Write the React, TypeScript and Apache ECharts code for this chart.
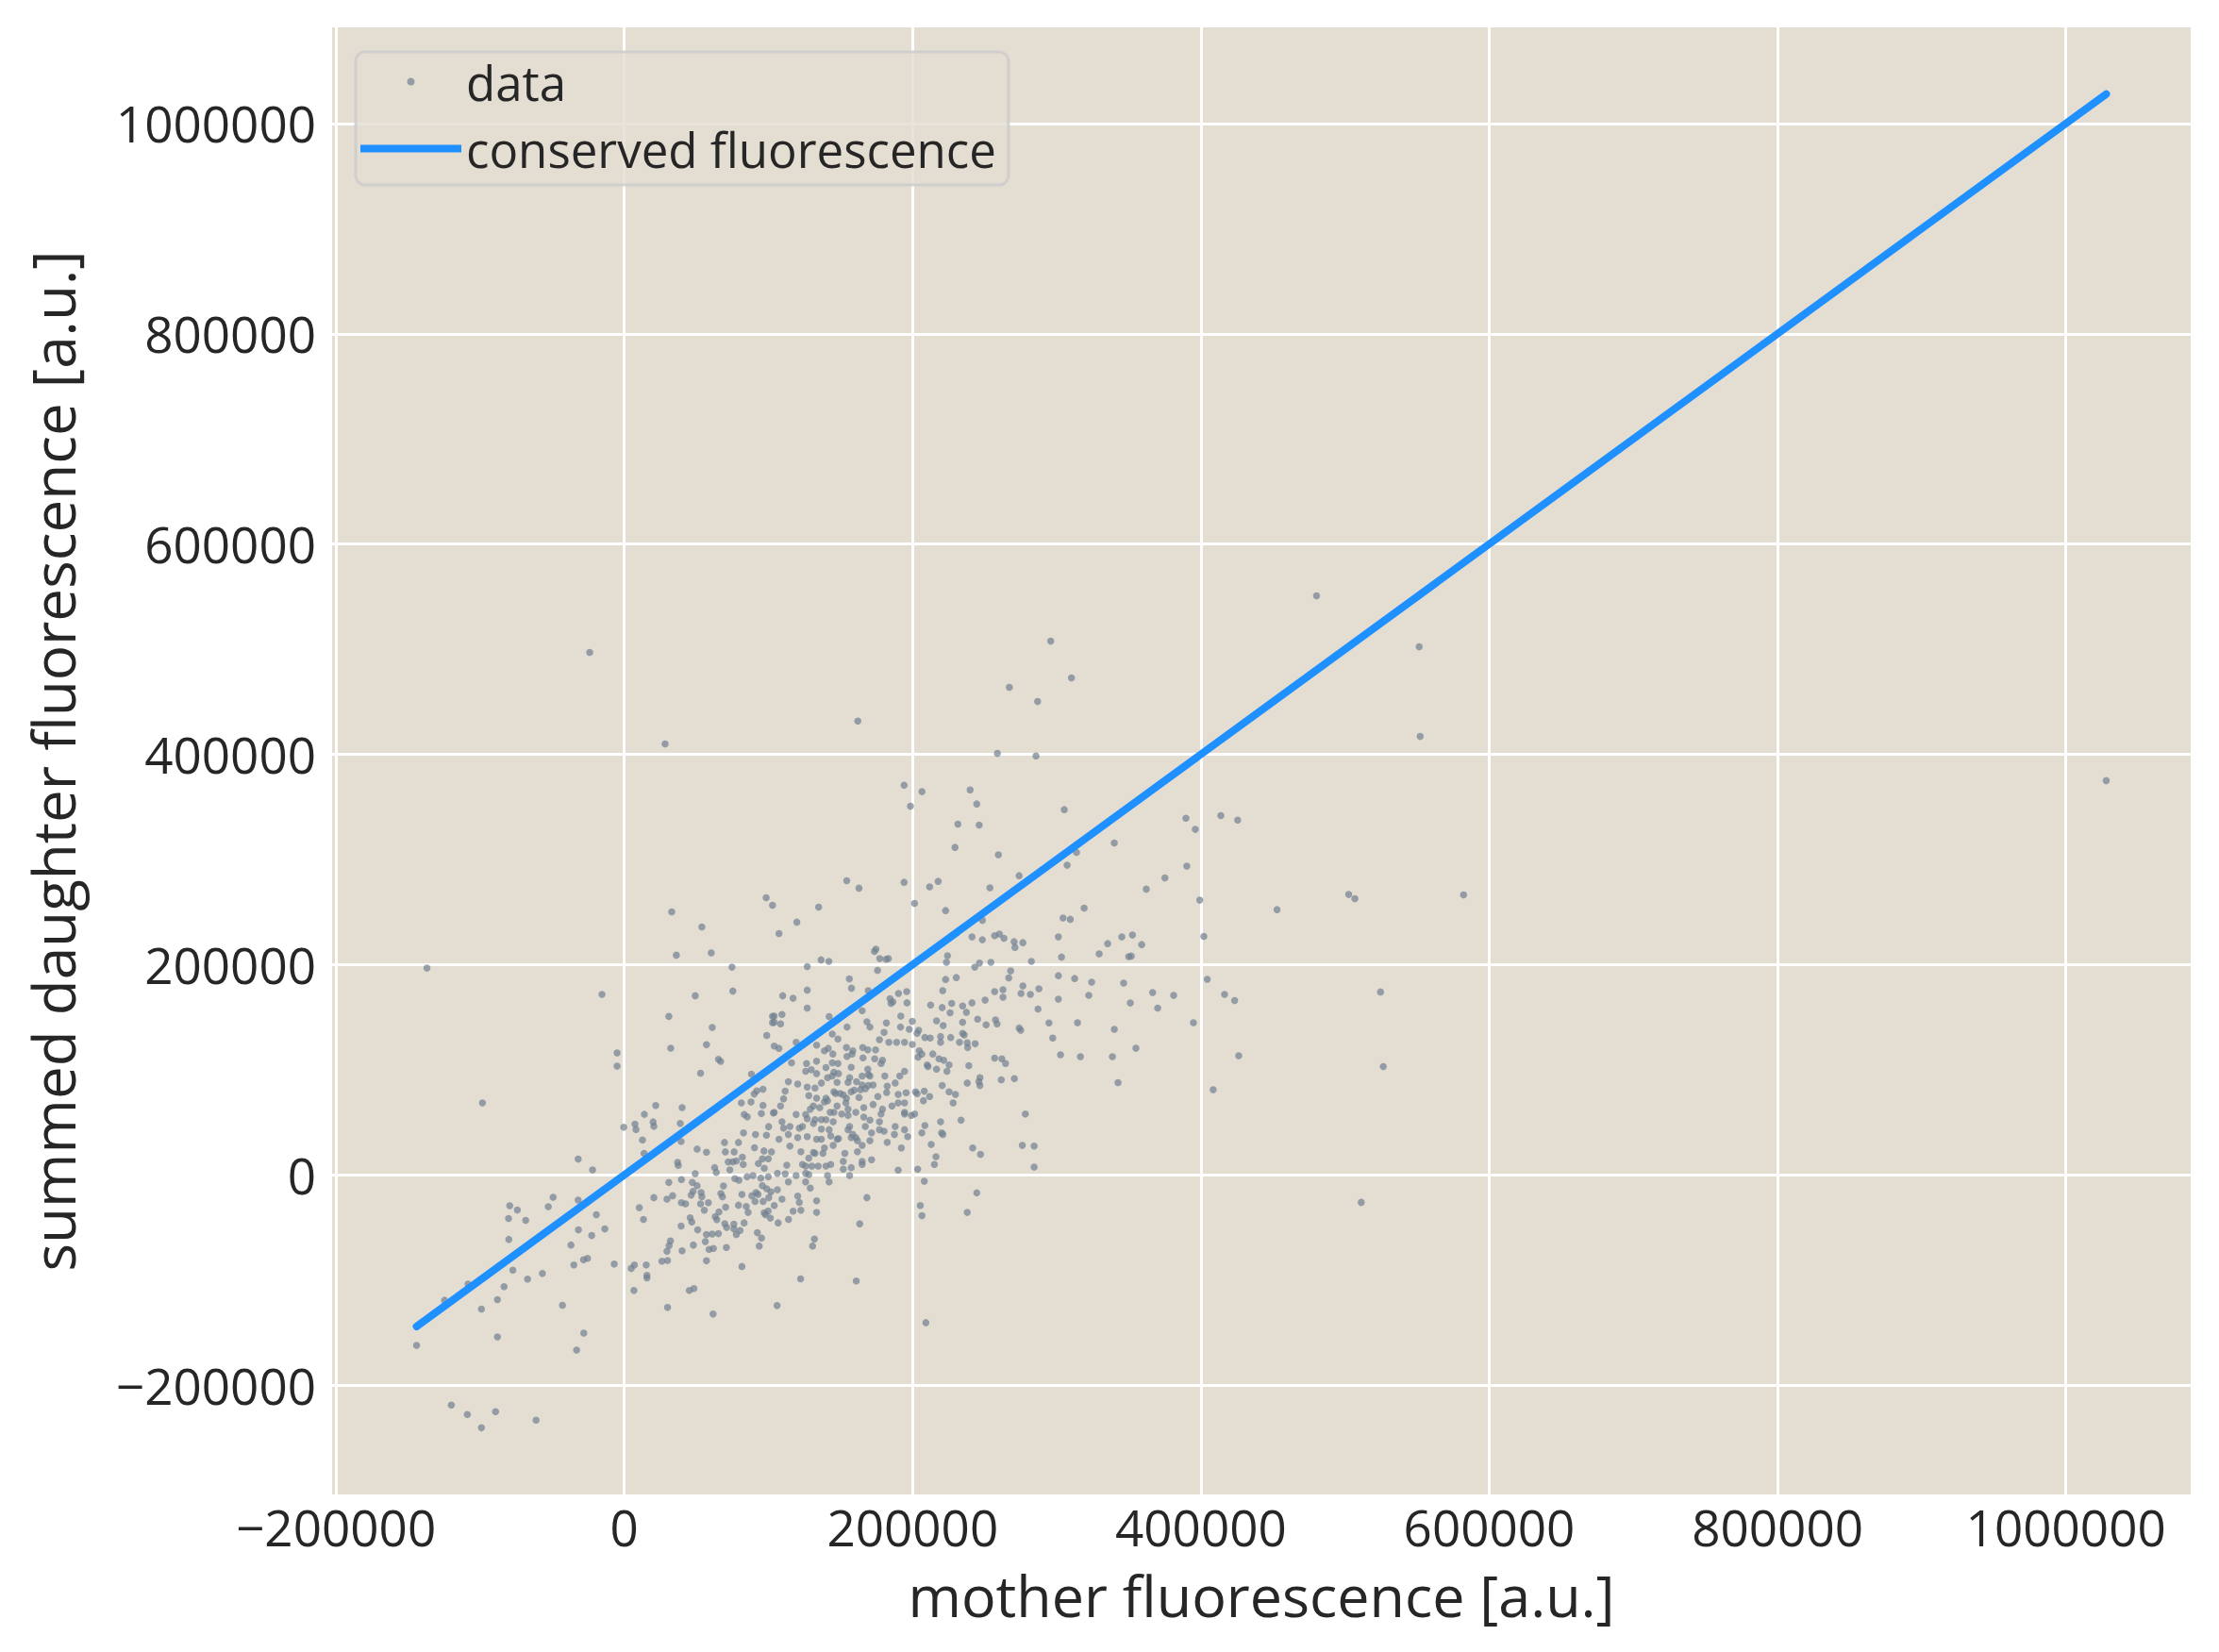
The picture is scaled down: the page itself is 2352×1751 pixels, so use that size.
import React, { useEffect, useRef } from "react";
import * as echarts from "echarts";

// mother fluorescence [a.u.], summed daughter fluorescence [a.u.]
const scatterPoints: number[][] = [
  [-98400,68500],[-32000,15000],[-22000,4800],[-49400,-21300],[-52700,-30300],[-79500,-29400],[-74200,-33300],[-80300,-41400],[-68400,-43200],[-32000,-24000],[-19400,-37800],[-31800,-52300],[-13500,-51400],[-22600,-57700],[-80100,-61300],[-37000,-66700],[-28300,-80800],[-25500,-79300],[-35000,-85600],[-7000,-84700],[-77300,-90600],[-67100,-99100],[-56800,-93700],[-83400,-106300],[-108400,-103900],[-124700,-119200],[-88000,-118600],[-99100,-127600],[-42900,-124000],[-88000,-154000],[-28100,-150500],[-144100,-162200],[-33100,-166600],[-120000,-218900],[-108900,-227900],[-89300,-225200],[-99100,-240500],[-61200,-233300],
  [-400,45300],[7400,48300],[8100,43200],[13900,57600],[21800,66000],[20000,50400],[20500,46200],[40100,64000],[38800,48900],[12600,33300],[13700,20400],[39400,31800],[37000,12000],[37400,9000],[50500,24600],[57000,21600],[49200,1200],[39600,-4500],[30900,-7200],[29600,-23100],[33500,-19800],[20500,-21600],[10400,-31200],[13300,-42300],[39600,-26400],[42500,-27600],[46400,-19200],[47700,-15600],[47200,-7200],[50500,-10200],[53300,-16800],[53800,-20700],[52900,-27600],[55500,-33600],[58300,-26400],[45700,-40800],[46800,-44700],[50900,-52300],[39400,-48600],[32000,-62800],[31100,-67300],[29600,-72700],[26100,-82000],[30000,-81400],[40100,-72100],[47900,-66700],[57000,-56800],[61000,-56200],[65300,-55900],[56200,-63400],[58800,-70900],[61800,-70000],[57000,-81700],[4800,-88900],[7000,-85600],[15200,-85600],[15700,-95500],[15700,-97900],[6700,-109900],[45100,-109900],[48300,-108100],[30000,-126100],[61600,-132400],[70800,-69100],[81600,-87100],[106000,-124300],[122300,-98800],[160900,-100900],[131900,-61000],[130600,-67600],[93600,-67600],[95200,-60100],[92300,-55000],[163300,-46500],[106700,-45600],[113900,-42300],[96300,-25200],[97000,-36000],[99800,-34200],[101300,-41100],[98000,-37800],[88500,-19800],[92800,-18600],[90700,-25200],[91400,-16800],[84600,-30000],[85900,-35700],[79200,-28800],[83100,-45600],[80300,-52900],[77700,-56800],[76000,-51400],[69700,-46300],[71000,-49900],[76000,-46800],[64200,-42600],[63100,-39600],[65700,-35100],[70300,-30600],[67000,-17700],[68100,-20700],[68800,-10500],[79500,-5100],[76700,-3600],[81600,-18600],[85200,-1800],[89300,-600],[94700,-3000],[99900,-1800],[95800,-10200],[98800,-13200],[101700,-16200],[100200,-21600],[69500,30900],[73200,4800],[75200,12300],[72100,12300],[62700,6900],[63800,2400],[70100,21900],[77700,13200],[76200,21900],[82500,9900],[81900,16800],[79200,30900],[90300,25800],[91000,38400],[98600,37800],[100100,45900],[96900,22800],[95800,15300],[93000,10800],[99900,15300],[97100,6300],[102100,21900],[103400,58900],[82700,39900],[81200,68500],[87900,69400],[96200,66100],[95100,58300],[83200,57400],[85300,55300],[90100,76900],[91900,79900],[96200,81400],
  [342500,87700],[206500,-38700],[209200,-140500],[408500,81100],[511200,-26100],
  [28300,409900],[162000,431700],[-136900,196700],[-15500,171600],[-5000,116000],[-5000,103400],[32900,250200],[53800,235900],[36100,209000],[60300,211100],[74700,197600],[98400,263700],[102800,256500],[134800,254700],[119700,240400],[107300,229600],[154300,279800],[162800,272700],[126900,198200],[136500,204500],[141900,203000],[173500,212600],[174600,214700],[177200,205700],[181600,205100],[175700,194600],[156100,186500],[157600,177600],[126900,175800],[49200,170400],[75300,174900],[109900,170400],[117100,168000],[30900,150700],[102800,150700],[102800,144700],[61000,140200],[98800,132700],[32200,120500],[57000,123800],[65300,110000],[66800,107900],[169200,175200],[88200,95900],[52900,96800],
  [258800,400900],[285600,398500],[194100,370700],[206500,364500],[198500,350700],[239900,366200],[244500,352800],[231400,333700],[246200,332800],[305200,347400],[229400,311500],[259500,304400],[339900,315700],[313700,306700],[307200,294500],[273900,284600],[389600,339300],[396100,328600],[413800,341700],[425500,337500],[390200,293600],[375000,282500],[362100,271800],[399200,261300],[452800,252300],[502500,266700],[506800,262800],[402000,226900],[319000,253800],[304400,244300],[309400,243100],[194100,278300],[211800,273900],[217700,279200],[201300,258300],[222900,251400],[253600,273000],[248400,242200],[241200,226300],[248400,223600],[256900,227500],[260200,229000],[263400,225100],[270400,221800],[271000,216400],[276500,220900],[301100,226300],[303300,207200],[282400,203000],[224200,208400],[223500,202100],[246400,201500],[243100,197600],[254300,202100],[329400,210200],[335300,220000],[345100,226300],[352500,228100],[358900,219100],[349900,207500],[351700,208100],[183200,205700],[404400,186000],[416400,171600],[423400,165900],[394800,144700],[426200,113300],[381100,170700],[366500,173400],[370000,158700],[346400,182400],[351000,163500],[339900,138400],[354900,120500],[338600,112400],[316400,112400],[302600,114200],[314400,144700],[301100,189500],[312400,186800],[324200,183300],[322200,170700],[301100,167100],[268000,194000],[266700,187400],[276500,179700],[287600,177000],[275200,172500],[281700,171600],[262700,176100],[262700,168900],[256900,174300],[250300,166200],[230300,187700],[222900,185900],[220900,175200],[195900,174300],[190200,172500],[184300,167700],
  [295800,507600],[310200,472700],[267100,463700],[286700,450200],[480200,550700],[551400,502300],[552100,417000],[582200,266300],
  [524600,174000],[526500,103000],[1028000,375000],[-24000,497000],
  [126900,158600],[109400,152600],[104000,151100],[165000,156200],[185000,163100],[186300,164600],[196100,163700],[212500,161600],[220500,159200],[227100,163100],[234700,160700],[241200,163700],[237300,154700],[245100,148100],[251000,142700],[257500,147500],[258600,143600],[273900,139700],[275000,137600],[287000,157700],[294600,144500],[297200,130100],[216600,146600],[221200,142100],[234700,145100],[226000,154100],
  [142100,150500],[154500,140600],[168300,145700],[170400,140600],[181800,144500],[191800,151100],[191600,140600],[199800,146000],[197700,138500],[204200,137600],[203100,134600],[180200,135500],[177000,128600],[183500,126200],[188900,126200],[194400,126200],[199800,124100],[208500,130700],[212200,130100],[219400,131600],[226400,130700],[234700,134600],[235800,133100],[232500,126200],[237900,125600],[243400,124700],[238200,121100],[219400,126200],[144300,134000],[148200,129200],[104000,145100],[108400,143600],
  [104000,122600],[107300,120400],[119200,126200],[133400,123500],[138800,118000],[141500,120400],[144700,115000],[154100,121100],[158500,118000],[165400,121100],[168900,119000],[174300,119000],[154500,112600],[158000,115000],[165600,111400],[173700,110500],[179100,109000],[178100,106000],[116000,106600],[126400,106000],[133400,108100],[139900,102100],[144300,106600],[148200,106000],[125800,98500],[129700,100000],[133400,96400],[145400,97600],[148600,96400],[157400,102400],[168900,100600],[170400,94000],[165000,94000],[169300,95500],[194400,98500],[191100,94000],[180700,94000],[204600,118000],[203800,112000],[206400,115000],[214000,115000],[218300,110500],[221600,109000],[225300,104500],[223800,98500],[210100,104500],[210700,103000],[216600,100600],[239000,103900],[256900,111100],[261900,110500],[264500,106000],[246700,92500],[237900,87400],[246000,88600],[246700,85000],[261500,90400],[270600,91600],[220500,85000],[113800,88600],[120300,86500],[126900,83500],[132300,82600],[136700,87400],[141000,92500],[144300,94000],[147600,88000],[155200,88000],[161100,88600],[165000,85600],[156300,92500],[169300,85000],[172600,85600],[182400,84400],[187900,87400],
  [111600,79600],[110500,72400],[128000,75400],[133400,73000],[139900,73000],[145400,79000],[146500,77500],[149700,77500],[151900,76000],[154100,73000],[157400,79000],[159500,80500],[163900,81100],[167200,82000],[153700,68500],[147600,65500],[162800,73600],[175900,74500],[182000,78400],[190000,76600],[195500,78100],[202000,79000],[203100,77200],[208100,79600],[211800,74500],[207500,70600],[225300,79000],[229700,76600],[228100,68500],[104000,59500],[108400,65500],[119200,57400],[125800,57400],[129000,62500],[131200,65500],[135600,64000],[138800,69400],[141000,70600],[142800,59500],[145400,59500],[150800,58000],[155200,62500],[155200,56500],[160600,59500],[166100,64000],[172600,67000],[179100,62500],[185700,65500],[190000,68500],[194400,68500],[194400,59500],[178100,58000],[170400,52100],[166100,55000],[139900,52600],[136700,52600],[132300,52600],[126900,53500],[144900,50500],[194400,58000],[199200,56500],[201400,58000],
  [109400,50500],[110500,44500],[114900,46000],[121400,44500],[123600,46000],[131200,49000],[136700,43600],[142100,43000],[156300,46000],[158500,38500],[155200,43000],[167200,46000],[177000,50500],[177000,43000],[171500,40000],[180200,41500],[187900,46000],[187400,38500],[194400,43000],[196600,36400],[208500,46900],[206400,40000],[219400,50500],[220100,40000],[221000,38500],[233600,52000],[278200,58000],[107300,34000],[113800,38500],[120300,35500],[126900,36400],[133400,34000],[136700,34000],[143200,37000],[147600,34000],[148600,34600],[157400,35500],[160600,35500],[161700,32500],[165000,28000],[170400,32500],[182400,31000],[192200,25600],[212900,28900],[241700,25600],[247100,19500],[276100,28000],[284300,27400],[114900,27400],[122500,22000],[131200,21400],[132300,20500],[137800,20500],[138800,25600],[144900,28000],[153000,20500],[161700,22000],
  [112700,9300],[123600,9900],[125800,8400],[128000,15900],[130100,8400],[134500,8400],[139900,8400],[143200,9900],[151900,12900],[151900,5400],[157400,6900],[156300,-600],[165000,12900],[165000,9900],[171500,14400],[190000,4500],[203500,5400],[216200,17400],[215100,9900],[284300,7500],[106200,1500],[111600,900],[119200,-600],[125800,1500],[128000,300],[141000,-600],[142100,-6600],
  [113800,-6600],[106200,-14100],[125800,-6600],[129000,-12600],[120300,-20100],[121400,-26100],[109400,-23100],[104000,-29100],[133400,-24600],[168300,-21600],[208100,-6000],[205300,-29100],[244500,-17100],[237900,-35700],[117100,-34500],[122500,-33600],[133400,-35700],
];

// "conserved fluorescence": daughter = mother, drawn over the data's x extent
const lineX: number[] = [-144100, 1028000];

const xRange: number[] = [-202700, 1086600];
const yRange: number[] = [-303900, 1091400];

const FONT = "'Open Sans', 'DejaVu Sans', sans-serif";
const TEXT = "#262626";

const fmt = (v: number) => (v < 0 ? "\u2212" + String(-v) : String(v));

export default function App() {
  const ref = useRef<HTMLDivElement>(null);
  useEffect(() => {
    if (!ref.current) return;
    const chart = echarts.init(ref.current, undefined, { renderer: "svg" });
    chart.setOption({
      animation: false,
      backgroundColor: "#ffffff",
      grid: {
        left: 352,
        top: 29,
        width: 1970,
        height: 1555,
        show: true,
        backgroundColor: "#e3ddd2",
        borderWidth: 0,
        containLabel: false,
      },
      xAxis: {
        type: "value",
        min: xRange[0],
        max: xRange[1],
        splitNumber: 6,
        axisLine: { show: false },
        axisTick: { show: false },
        splitLine: {
          show: true,
          showMinLine: false,
          showMaxLine: false,
          lineStyle: { color: "#ffffff", width: 3 },
        },
        axisLabel: {
          showMinLabel: false,
          showMaxLabel: false,
          formatter: fmt,
          fontSize: 53,
          lineHeight: 53,
          color: TEXT,
          fontFamily: FONT,
          margin: 8,
        },
        name: "mother fluorescence [a.u.]",
        nameLocation: "middle",
        nameGap: 76,
        nameTextStyle: { fontSize: 61, lineHeight: 61, color: TEXT, fontFamily: FONT },
      },
      yAxis: {
        type: "value",
        min: yRange[0],
        max: yRange[1],
        splitNumber: 6,
        axisLine: { show: false },
        axisTick: { show: false },
        splitLine: {
          show: true,
          showMinLine: false,
          showMaxLine: false,
          lineStyle: { color: "#ffffff", width: 3 },
        },
        axisLabel: {
          showMinLabel: false,
          showMaxLabel: false,
          formatter: fmt,
          fontSize: 53,
          color: TEXT,
          fontFamily: FONT,
          margin: 17,
        },
        name: "summed daughter fluorescence [a.u.]",
        nameLocation: "middle",
        nameGap: 265,
        nameTextStyle: { fontSize: 62, color: TEXT, fontFamily: FONT },
      },
      legend: {
        orient: "vertical",
        left: 377,
        top: 55,
        data: [
          { name: "data", icon: "circle" },
          { name: "conserved fluorescence", icon: "rect" },
        ],
        itemWidth: 107,
        itemHeight: 8,
        itemGap: 18,
        padding: [5, 13, 12, 5],
        backgroundColor: "rgba(227,221,210,0.8)",
        borderColor: "rgba(204,204,204,0.85)",
        borderWidth: 3,
        borderRadius: 10,
        textStyle: { fontSize: 51, lineHeight: 53, color: TEXT, fontFamily: FONT },
      },
      series: [
        {
          name: "data",
          type: "scatter",
          data: scatterPoints,
          symbol: "circle",
          symbolSize: 7.5,
          itemStyle: { color: "#708090", opacity: 0.7 },
          z: 2,
        },
        {
          name: "conserved fluorescence",
          type: "line",
          data: [
            [lineX[0], lineX[0]],
            [lineX[1], lineX[1]],
          ],
          symbol: "none",
          showSymbol: false,
          lineStyle: { color: "#1e90ff", width: 8, cap: "round" },
          itemStyle: { color: "#1e90ff" },
          z: 3,
        },
      ],
    });
    return () => chart.dispose();
  }, []);
  return (
    <div
      ref={ref}
      style={{ position: "absolute", left: 0, top: 0, width: 2352, height: 1751 }}
    />
  );
}
